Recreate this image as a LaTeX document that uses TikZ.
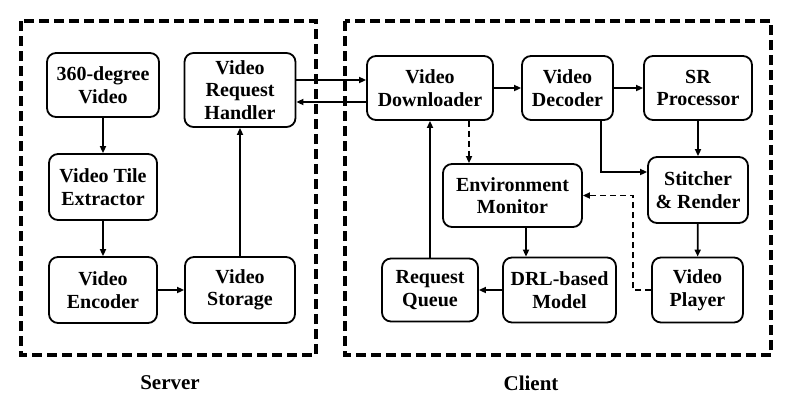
\documentclass[tikz,border=0pt]{standalone}
\usepackage{fontspec}
\setmainfont{Liberation Serif}
\usetikzlibrary{arrows.meta,calc}
\tikzset{
  blk/.style={draw, line width=1.8pt, rounded corners=9pt, align=center,
    font=\fontsize{20}{22.5}\selectfont\bfseries, inner sep=0pt},
  arr/.style={line width=1.7pt, -{Triangle[length=7pt,width=6pt]}},
  darr/.style={arr, dash pattern=on 6pt off 4pt},
  grp/.style={line width=3.2pt, dash pattern=on 10pt off 5pt},
  lbl/.style={font=\fontsize{21}{24}\selectfont\bfseries}
}
\begin{document}
\begin{tikzpicture}[x=1pt,y=-1pt]
\useasboundingbox (0,0) rectangle (810,408);
% groups
\draw[grp] (21,21) rectangle (316,355);
\draw[grp] (345,21) rectangle (771,355);
% server nodes
\node[blk, minimum width=112pt, minimum height=64pt] (v360) at (103,85) {360-degree\\Video};
\node[blk, minimum width=108pt, minimum height=66pt] (tile) at (103,187) {Video Tile\\Extractor};
\node[blk, minimum width=108pt, minimum height=66pt] (enc) at (103,290) {Video\\Encoder};
\node[blk, minimum width=110pt, minimum height=66pt] (stor) at (240,290) {Video\\Storage};
\node[blk, minimum width=111pt, minimum height=74pt] (vrh) at (240,90) {Video\\Request\\Handler};
% client nodes
\node[blk, minimum width=126pt, minimum height=64pt] (dl) at (430,88) {Video\\Downloader};
\node[blk, minimum width=91pt, minimum height=64pt] (dec) at (567.5,88) {Video\\Decoder};
\node[blk, minimum width=108pt, minimum height=64pt] (sr) at (698,88) {SR\\Processor};
\node[blk, minimum width=100pt, minimum height=66pt] (st) at (698,190) {Stitcher\\\& Render};
\node[blk, minimum width=91pt, minimum height=65pt] (pl) at (697.5,290) {Video\\Player};
\node[blk, minimum width=139pt, minimum height=63pt] (env) at (512.5,195.5) {Environment\\Monitor};
\node[blk, minimum width=113pt, minimum height=65pt] (drl) at (559.5,290) {DRL-based\\Model};
\node[blk, minimum width=96pt, minimum height=63pt] (rq) at (430,290) {Request\\Queue};
% labels
\node[lbl] (server) at (170,383) {Server};
\node[lbl] (client) at (531,383) {Client};
% server connectors
\draw[arr] (v360) -- (tile);
\draw[arr] (tile) -- (enc);
\draw[arr] (enc) -- (stor);
\draw[arr] (stor) -- (vrh);
% server-client
\draw[arr] ([yshift=10pt]vrh.east) -- ([yshift=10pt]vrh.east -| dl.west);
\draw[arr] ([yshift=-12pt]vrh.east -| dl.west) -- ([yshift=-12pt]vrh.east);
% client connectors
\draw[arr] (dl) -- (dec);
\draw[arr] (dec) -- (sr);
\draw[arr] (sr) -- (st);
\draw[arr] ([xshift=33.5pt]dec.south) |- ([yshift=18pt]st.west);
\draw[arr] (st) -- (pl);
\draw[darr] (pl.west) -| ([xshift=50pt]env.east) |- (env.east);
\draw[darr] ([xshift=39pt]dl.south) -- ([xshift=39pt]dl.south |- env.north);
\draw[arr] ([xshift=13.5pt]env.south) -- ([xshift=13.5pt]env.south |- drl.north);
\draw[arr] (drl) -- (rq);
\draw[arr] (rq) -- (dl);
\end{tikzpicture}
\end{document}
